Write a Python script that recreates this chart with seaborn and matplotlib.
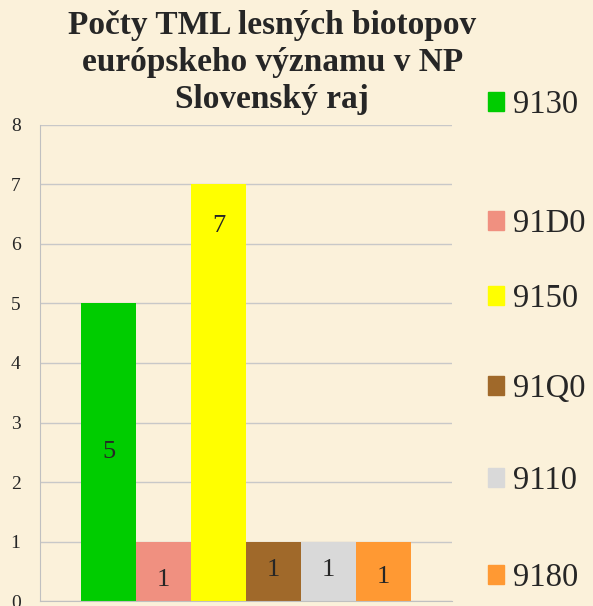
import pandas as pd
import numpy as np
import matplotlib.pyplot as plt
import seaborn as sns

# Dáta z grafu
kody = ["9130", "91D0", "9150", "91Q0", "9110", "9180"]
pocty = [5, 1, 7, 1, 1, 1]
farby = ["#00CC00", "#F09080", "#FFFF00", "#A0692A", "#D9D9D9", "#FF9933"]

df = pd.DataFrame({"skupina": ["NP"] * len(kody), "kod": kody, "pocet": pocty})

sns.set_style("white")
plt.rcParams["font.family"] = ["Liberation Serif", "DejaVu Serif"]

pozadie = "#FBF1DA"
fig = plt.figure(figsize=(5.93, 6.06), dpi=100, facecolor=pozadie)
ax = fig.add_axes([0.0675, 0.008, 0.695, 0.786])
ax.set_facecolor(pozadie)

sns.barplot(data=df, x="skupina", y="pocet", hue="kod", palette=farby,
            width=0.8, saturation=1, linewidth=0, legend=False, ax=ax)

ax.set_ylim(0, 8)
ax.set_xlim(-0.5, 0.5)
ax.set_yticks(range(0, 9))
ax.yaxis.grid(True, color="#C8C8C8", linewidth=1)
ax.set_axisbelow(True)
ax.set_xticks([])
ax.set_xlabel("")
ax.set_ylabel("")
for s in ["top", "right"]:
    ax.spines[s].set_visible(False)
for s in ["left", "bottom"]:
    ax.spines[s].set_color("#C0C0C0")
ax.tick_params(axis="y", length=5, color="#C0C0C0", labelsize=14, pad=9)

# hodnoty v stĺpcoch (poloha ako podiel výšky stĺpca)
pozicie = [0.5, 0.36, 0.9, 0.52, 0.52, 0.4]
for p, v, f in zip(ax.patches, pocty, pozicie):
    ax.text(p.get_x() + p.get_width() / 2, v * f, str(v),
            ha="center", va="center", fontsize=19)

# legenda - každá položka zvlášť, lebo rozostupy nie sú rovnaké
leg_y = [103, 222, 297, 387, 479, 576]  # stredy položiek v pixeloch zhora
for kod, c, yp in zip(kody, farby, leg_y):
    fig.legend([plt.Rectangle((0, 0), 1, 1, color=c)], [kod], loc="upper left",
               bbox_to_anchor=(0.774, 1 - (yp - 42.6) / 606),
               frameon=False, fontsize=23.5, handlelength=0.49,
               handleheight=0.49, handletextpad=0.25)

fig.text(0.459, 0.984, "Počty TML lesných biotopov\neurópskeho významu v NP\nSlovenský raj",
         ha="center", va="top", fontsize=24, fontweight="bold", linespacing=1.25)

plt.savefig("out.png", dpi=100, facecolor=pozadie)
